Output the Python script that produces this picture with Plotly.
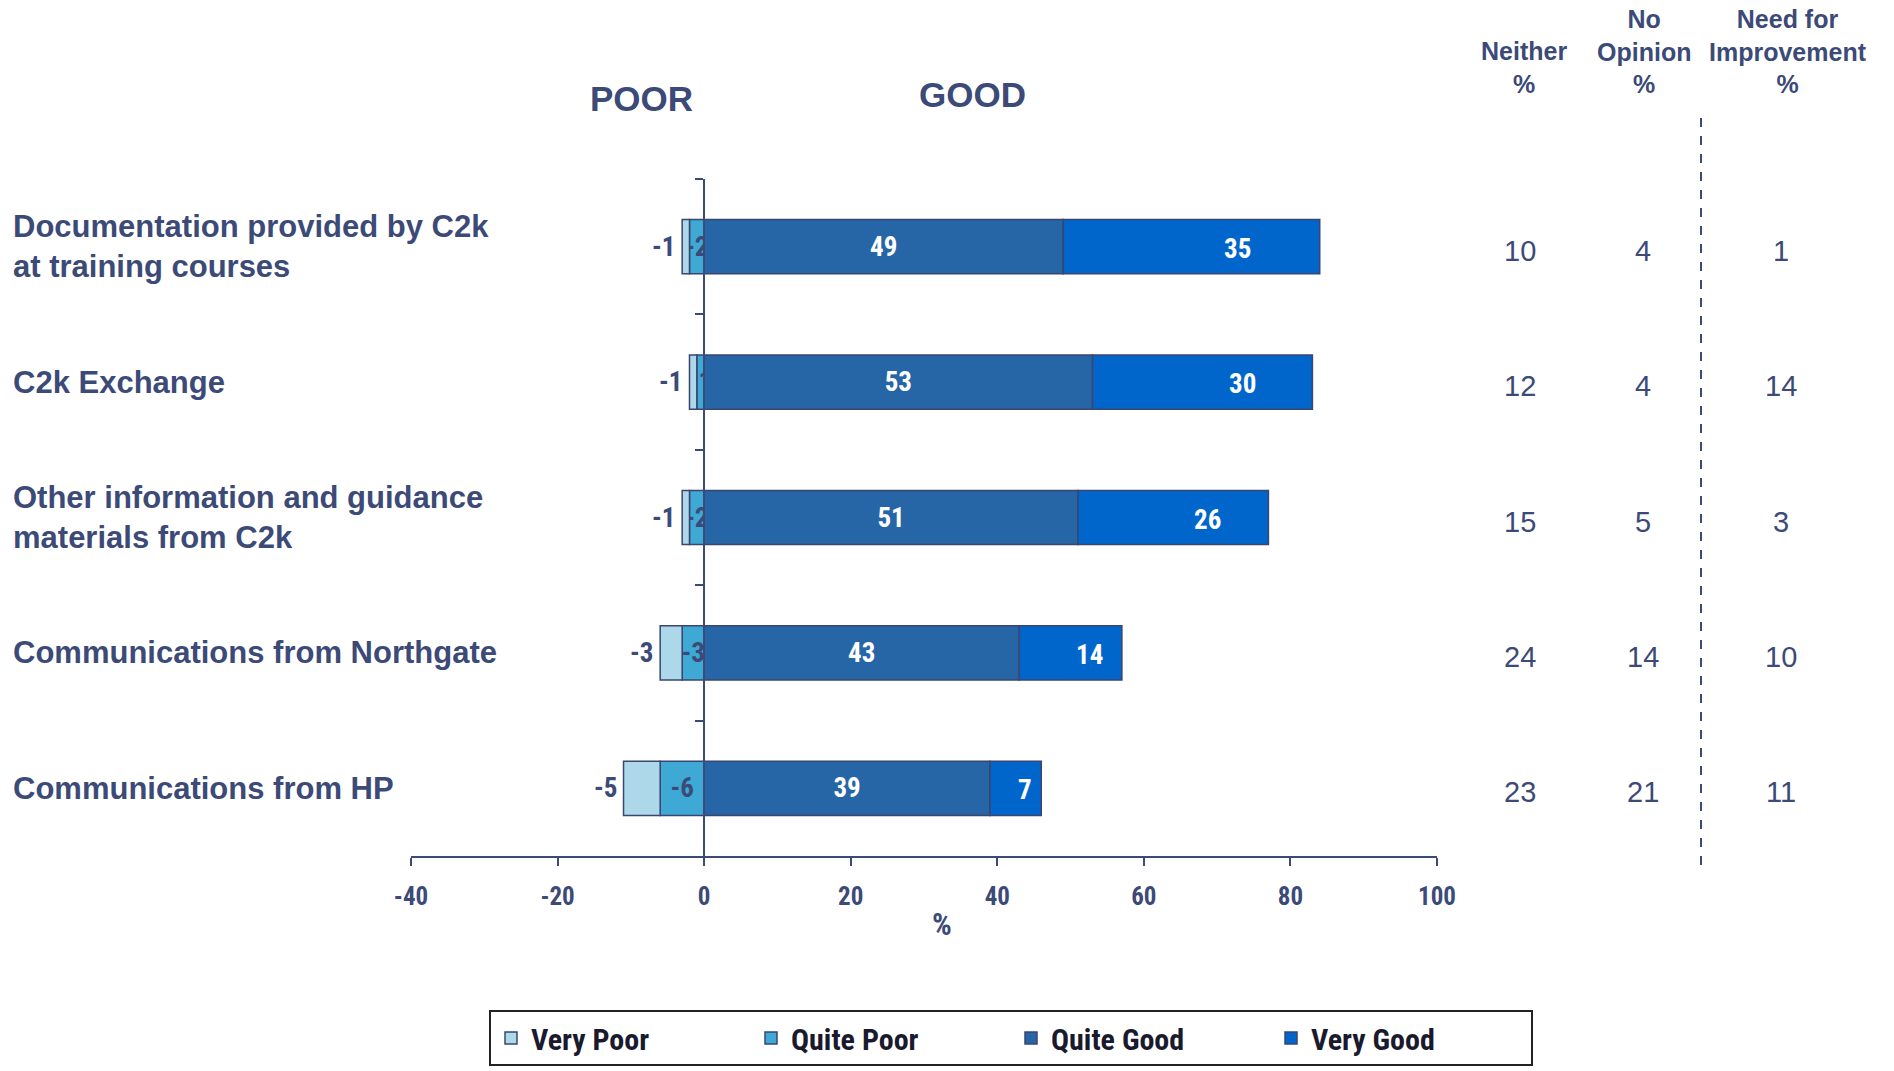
import plotly.graph_objects as go

# ---------------- data ----------------
categories = [
    "Documentation provided by C2k<br>at training courses",
    "C2k Exchange",
    "Other information and guidance<br>materials from C2k",
    "Communications from Northgate",
    "Communications from HP",
]
very_poor = [-1, -1, -1, -3, -5]
quite_poor = [-2, -1, -2, -3, -6]
quite_good = [49, 53, 51, 43, 39]
very_good = [35, 30, 26, 14, 7]
neither = [10, 12, 15, 24, 23]
no_opinion = [4, 4, 5, 14, 21]
need_improvement = [1, 14, 3, 10, 11]
x_ticks = [-40, -20, 0, 20, 40, 60, 80, 100]

# ---------------- styling ----------------
NAVY = "#3C4A78"
OUTLINE = "#3A4570"
C_VP = "#ADD8EA"
C_QP = "#3FA9D5"
C_QG = "#2666A6"
C_VG = "#0066CC"
NARROW = "Liberation Sans Narrow, Arial Narrow, Roboto Condensed, Liberation Sans, Arial, sans-serif"
SANS = "Liberation Sans, Arial, sans-serif"

W, H = 1894, 1071
L, R, T, B = 411, 457, 179, 215
PW, PH = W - L - R, H - T - B


def px_x(px):
    return (px - L) / PW


def px_y(py):
    return (H - B - py) / PH


def nfont(size, color):
    return dict(family=NARROW, size=size, color=color, weight="bold")


fig = go.Figure()

line = dict(color=OUTLINE, width=1.5)
fig.add_trace(go.Bar(y=categories, x=quite_poor, orientation="h", name="Quite Poor",
                     marker=dict(color=C_QP, line=line), legendrank=2,
                     text=[str(v) for v in quite_poor], textposition="inside",
                     insidetextanchor="middle", textangle=0,
                     textfont=nfont(27, NAVY)))
fig.add_trace(go.Bar(y=categories, x=very_poor, orientation="h", name="Very Poor",
                     marker=dict(color=C_VP, line=line), legendrank=1))
fig.add_trace(go.Bar(y=categories, x=quite_good, orientation="h", name="Quite Good",
                     marker=dict(color=C_QG, line=line), legendrank=3,
                     text=[str(v) for v in quite_good], textposition="inside",
                     insidetextanchor="middle", textangle=0,
                     textfont=nfont(27, "white")))
fig.add_trace(go.Bar(y=categories, x=very_good, orientation="h", name="Very Good",
                     marker=dict(color=C_VG, line=line), legendrank=4))

ann = []
# Very Poor labels (outside left)
for c, vp, qp in zip(categories, very_poor, quite_poor):
    ann.append(dict(x=vp + qp, y=c, xref="x", yref="y", text=str(vp), showarrow=False,
                    xanchor="right", yanchor="middle", xshift=-5,
                    font=nfont(27, NAVY)))
# Very Good labels
for c, qg, vg in zip(categories, quite_good, very_good):
    ann.append(dict(x=qg + vg * 0.68, y=c, xref="x", yref="y", text=str(vg), showarrow=False,
                    xanchor="center", yanchor="middle", yshift=-2,
                    font=nfont(27, "white")))
# category labels
for c in categories:
    ann.append(dict(x=px_x(11), y=c, xref="paper", yref="y", text="<b>%s</b>" % c,
                    showarrow=False, xanchor="left", yanchor="middle", align="left",
                    font=dict(family=SANS, size=31, color=NAVY)))
# right columns
for col, xp in ((neither, 1520), (no_opinion, 1643), (need_improvement, 1781)):
    for c, v in zip(categories, col):
        ann.append(dict(x=px_x(xp), y=c, xref="paper", yref="y", text=str(v),
                        showarrow=False, xanchor="center", yanchor="middle", yshift=-4,
                        font=dict(family=SANS, size=29, color=NAVY)))
# headers
for txt, xp in (("Neither<br>%", 1524), ("No<br>Opinion<br>%", 1644),
                ("Need for<br>Improvement<br>%", 1788)):
    ann.append(dict(x=px_x(xp), y=px_y(100), xref="paper", yref="paper",
                    text="<b>%s</b>" % txt, showarrow=False, xanchor="center",
                    yanchor="bottom", align="center",
                    font=dict(family=SANS, size=25, color=NAVY)))
ann.append(dict(x=px_x(641), y=px_y(99), xref="paper", yref="paper", text="<b>POOR</b>",
                showarrow=False, xanchor="center", yanchor="middle",
                font=dict(family=SANS, size=35, color=NAVY)))
ann.append(dict(x=px_x(972), y=px_y(95), xref="paper", yref="paper", text="<b>GOOD</b>",
                showarrow=False, xanchor="center", yanchor="middle",
                font=dict(family=SANS, size=35, color=NAVY)))
ann.append(dict(x=px_x(942), y=px_y(924), xref="paper", yref="paper", text="%",
                showarrow=False, xanchor="center", yanchor="middle",
                font=nfont(31, NAVY)))

fig.update_layout(
    width=W, height=H,
    margin=dict(l=L, r=R, t=T, b=B, autoexpand=False),
    paper_bgcolor="white", plot_bgcolor="white",
    barmode="relative", bargap=0.6,
    uniformtext=dict(minsize=27, mode="show"),
    showlegend=True,
    legend=dict(orientation="h", x=px_x(1533), y=px_y(1010), xanchor="right", yanchor="top",
                bordercolor="#222222", borderwidth=2, bgcolor="white",
                entrywidth=215, entrywidthmode="pixels",
                font=nfont(30, "#1A1A2E")),
    annotations=ann,
    shapes=[dict(type="line", xref="paper", yref="paper", x0=px_x(1701), x1=px_x(1701),
                 y0=px_y(118), y1=px_y(867), line=dict(color=NAVY, width=2, dash="dash"))],
    xaxis=dict(range=[-40, 100], tickvals=x_ticks, ticktext=[str(v) for v in x_ticks],
               showgrid=False, zeroline=False, showline=True, linecolor=NAVY, linewidth=2,
               ticks="outside", ticklen=8, tickcolor=NAVY, tickwidth=1.5,
               ticklabelstandoff=9,
               tickfont=nfont(25, NAVY)),
    yaxis=dict(autorange="reversed", anchor="free", position=40 / 140,
               showgrid=False, zeroline=False, showline=True, linecolor=NAVY, linewidth=1.5,
               showticklabels=False, ticks="outside", tickson="boundaries", ticklen=8,
               tickcolor=NAVY, tickwidth=1.5),
)

fig.write_html("out.html", config={"displayModeBar": False},
               post_script="document.body.style.margin='0px';")
